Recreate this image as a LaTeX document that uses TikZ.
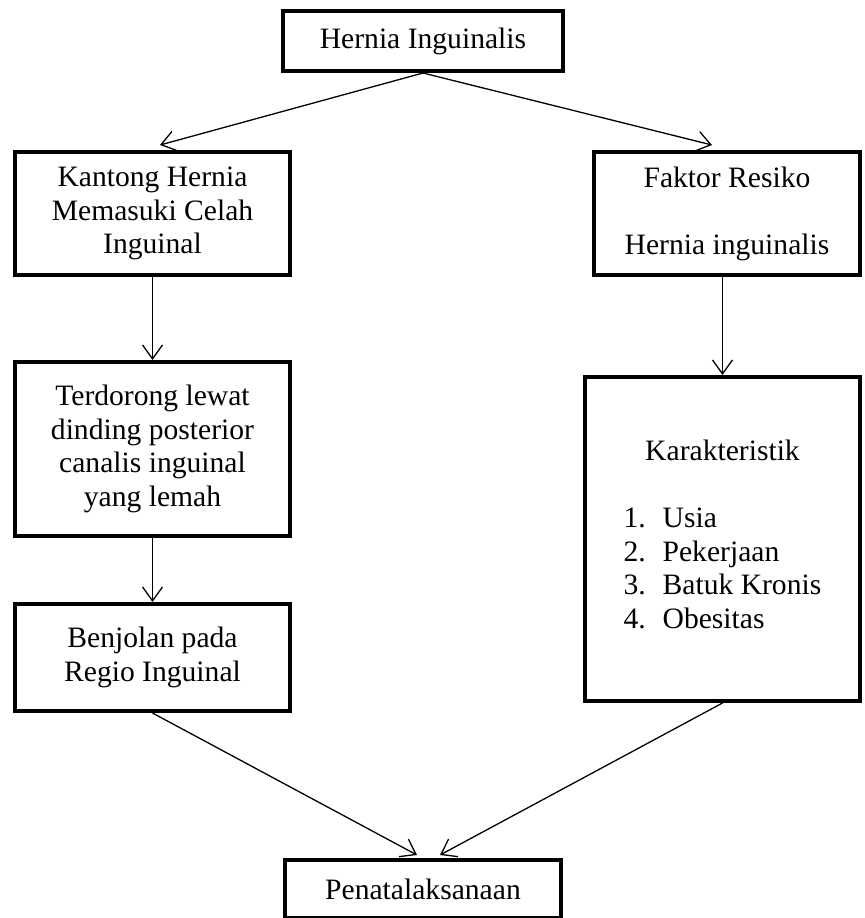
\documentclass[tikz,border=0pt]{standalone}
\usepackage{fontspec}
\setmainfont{Liberation Serif}
\usetikzlibrary{arrows.meta}
\tikzset{
  box/.style={draw, line width=2pt, align=center, inner sep=0pt,
    font=\fontsize{14.8}{16.75}\selectfont},
  flow/.style={-{Straight Barb[length=7pt,width=10pt]}, line width=0.65pt}
}

\begin{document}
\begin{tikzpicture}[x=0.5pt,y=-0.5pt]
  \useasboundingbox (0,0) rectangle (865,918);

  % Hernia Inguinalis
  \node[box, minimum width=140pt, minimum height=30pt] (hernia) at (423,41) {Hernia Inguinalis};

  % Kantong Hernia
  \node[box, minimum width=137.5pt, minimum height=61.5pt] (kantong) at (152.5,213.5)
    {Kantong Hernia\\Memasuki Celah\\Inguinal};

  % Terdorong
  \node[box, minimum width=137.5pt, minimum height=87pt] (terdorong) at (152.5,449)
    {Terdorong lewat\\dinding posterior\\canalis inguinal\\yang lemah};

  % Benjolan
  \node[box, minimum width=137.5pt, minimum height=53.5pt] (benjolan) at (152.5,657.5)
    {Benjolan pada\\Regio Inguinal};

  % Faktor Resiko
  \node[box, minimum width=133pt, minimum height=61.5pt] (faktor) at (727,213.5)
    {Faktor Resiko\\[16.75pt]Hernia inguinalis};

  % Karakteristik
  \node[box, minimum width=137.5pt, minimum height=162pt] (karakteristik) at (722.5,539)
    {Karakteristik\\[16.75pt]\begin{tabular}[t]{@{}p{19.5pt}@{}l@{}}
      1. & Usia\\
      2. & Pekerjaan\\
      3. & Batuk Kronis\\
      4. & Obesitas
    \end{tabular}};

  % Penatalaksanaan
  \node[box, minimum width=138pt, minimum height=29pt] (penatalaksanaan) at (423,889) {Penatalaksanaan};

  % arrows
  \draw[flow] (hernia.south) -- ([xshift=3.75pt,yshift=2.5pt]kantong.north);
  \draw[flow] (hernia.south) -- ([xshift=-7.5pt,yshift=2.5pt]faktor.north);
  \draw[flow] (kantong.south) -- (terdorong.north);
  \draw[flow] (terdorong.south) -- (benjolan.north);
  \draw[flow] (karakteristik.north |- faktor.south) -- (karakteristik.north);
  \draw[flow] (benjolan.south) -- ([xshift=-3pt,yshift=1.5pt]penatalaksanaan.north);
  \draw[flow] (karakteristik.south) -- ([xshift=8.5pt,yshift=1.5pt]penatalaksanaan.north);
\end{tikzpicture}
\end{document}
